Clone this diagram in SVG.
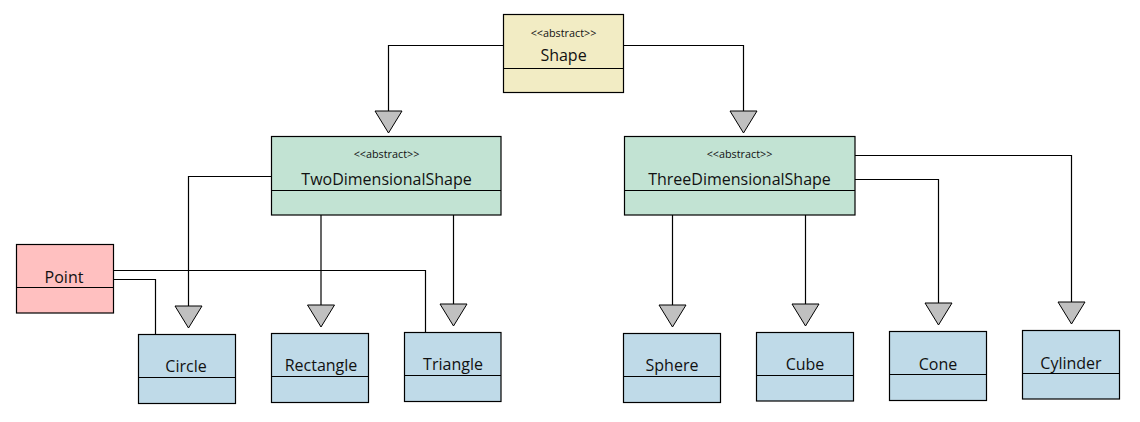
<svg xmlns="http://www.w3.org/2000/svg" width="1140" height="422" viewBox="0 0 1140 422">
<style>
.box{stroke:#000;stroke-width:1.2}
.div{stroke:#000;stroke-width:1.2}
.abs{fill:#F2ECC4}
.mid{fill:#C2E3D3}
.pt{fill:#FFC0C0}
.leaf{fill:#BFDAE8}
text{font-family:"Open Sans","Noto Sans",sans-serif;fill:#111;text-anchor:middle}
.st{font-size:10.8px}
.nm{font-size:16px}
.ln{fill:none;stroke:#000;stroke-width:1.2}
.ah{fill:#C0C0C0;stroke:#000;stroke-width:1}
</style>
<rect width="1140" height="422" fill="#fff"/>
<g id="connectors">
<polyline class="ln" points="503.5,45.5 388.5,45.5 388.5,111"/>
<polygon class="ah" points="375,111 402,111 388.5,133"/>
<polyline class="ln" points="623.5,45.5 743.5,45.5 743.5,111"/>
<polygon class="ah" points="730,111 757,111 743.5,133"/>
<polyline class="ln" points="271.5,176.5 188.5,176.5 188.5,306"/>
<polygon class="ah" points="175,306 202,306 188.5,328"/>
<polyline class="ln" points="321,215 321,305"/>
<polygon class="ah" points="307.5,305 334.5,305 321,327"/>
<polyline class="ln" points="453.5,215 453.5,304"/>
<polygon class="ah" points="440,304 467,304 453.5,326"/>
<polyline class="ln" points="672.5,215 672.5,305"/>
<polygon class="ah" points="659,305 686,305 672.5,327"/>
<polyline class="ln" points="805.5,215 805.5,304"/>
<polygon class="ah" points="792,304 819,304 805.5,326"/>
<polyline class="ln" points="855,179.5 938.5,179.5 938.5,303"/>
<polygon class="ah" points="925,303 952,303 938.5,325"/>
<polyline class="ln" points="855,155.5 1071.5,155.5 1071.5,302"/>
<polygon class="ah" points="1058,302 1085,302 1071.5,324"/>
<polyline class="ln" points="113.5,270.5 425.5,270.5 425.5,332"/>
<polyline class="ln" points="113.5,279.5 155.5,279.5 155.5,334"/>
</g>
<g id="Shape">
<rect class="box abs" x="503.5" y="14.5" width="120" height="78"/>
<line class="div" x1="503.5" y1="68.5" x2="623.5" y2="68.5"/>
<text class="st" x="563.5" y="36.5">&lt;&lt;abstract&gt;&gt;</text>
<text class="nm" x="563.5" y="61">Shape</text>
</g>
<g id="TwoDimensionalShape">
<rect class="box mid" x="271.5" y="136.5" width="229.5" height="78.5"/>
<line class="div" x1="271.5" y1="190.5" x2="501" y2="190.5"/>
<text class="st" x="386.5" y="157.5">&lt;&lt;abstract&gt;&gt;</text>
<text class="nm" x="386.5" y="184.5">TwoDimensionalShape</text>
</g>
<g id="ThreeDimensionalShape">
<rect class="box mid" x="624.5" y="136.5" width="230.5" height="78.5"/>
<line class="div" x1="624.5" y1="190.5" x2="855" y2="190.5"/>
<text class="st" x="739.5" y="157.5">&lt;&lt;abstract&gt;&gt;</text>
<text class="nm" x="739.5" y="184.5">ThreeDimensionalShape</text>
</g>
<g id="Point">
<rect class="box pt" x="16.5" y="244.5" width="97" height="68.5"/>
<line class="div" x1="16.5" y1="287.5" x2="113.5" y2="287.5"/>
<text class="nm" x="64" y="283">Point</text>
</g>
<g id="Circle">
<rect class="box leaf" x="138.5" y="334.5" width="97" height="69"/>
<line class="div" x1="138.5" y1="377.5" x2="235.5" y2="377.5"/>
<text class="nm" x="186" y="371.5">Circle</text>
</g>
<g id="Rectangle">
<rect class="box leaf" x="271.5" y="333.5" width="97" height="69"/>
<line class="div" x1="271.5" y1="376.5" x2="368.5" y2="376.5"/>
<text class="nm" x="321" y="370.5">Rectangle</text>
</g>
<g id="Triangle">
<rect class="box leaf" x="404.5" y="332.5" width="96.5" height="69"/>
<line class="div" x1="404.5" y1="375.5" x2="501" y2="375.5"/>
<text class="nm" x="453" y="369.5">Triangle</text>
</g>
<g id="Sphere">
<rect class="box leaf" x="623.5" y="333.5" width="97" height="69"/>
<line class="div" x1="623.5" y1="376.5" x2="720.5" y2="376.5"/>
<text class="nm" x="672" y="370.5">Sphere</text>
</g>
<g id="Cube">
<rect class="box leaf" x="756.5" y="332.5" width="97" height="68.5"/>
<line class="div" x1="756.5" y1="375.5" x2="853.5" y2="375.5"/>
<text class="nm" x="805" y="370">Cube</text>
</g>
<g id="Cone">
<rect class="box leaf" x="889.5" y="331.5" width="97" height="69"/>
<line class="div" x1="889.5" y1="374.5" x2="986.5" y2="374.5"/>
<text class="nm" x="938" y="369.5">Cone</text>
</g>
<g id="Cylinder">
<rect class="box leaf" x="1022.5" y="330.5" width="97" height="68.5"/>
<line class="div" x1="1022.5" y1="373.5" x2="1119.5" y2="373.5"/>
<text class="nm" x="1071" y="368.5">Cylinder</text>
</g>
</svg>
